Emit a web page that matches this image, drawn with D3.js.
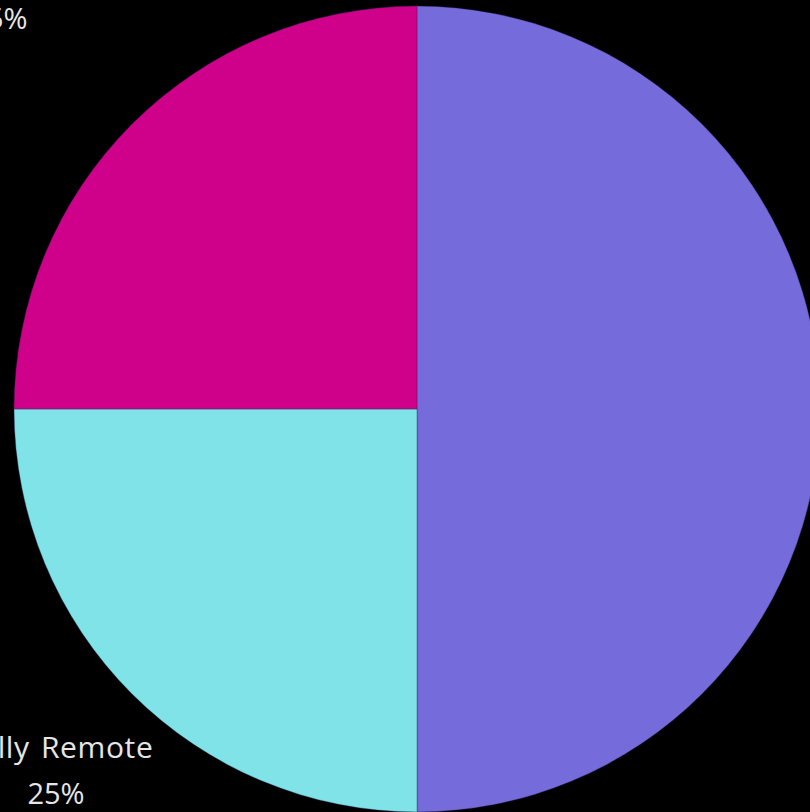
<!DOCTYPE html>
<html><head><meta charset="utf-8">
<script src="https://cdn.jsdelivr.net/npm/d3@7"></script>
<style>html,body{margin:0;padding:0;background:#000;overflow:hidden}</style>
</head><body>
<svg id="chart" width="810" height="812"></svg>
<script>
const categories = ["Hybrid", "Fully Remote", "Fully On-site"];
const values = [50, 25, 25];
const valueLabels = ["50%", "25%", "25%"];
const colors = ["#766bda", "#7fe3e8", "#cf008a"];

const W = 810, H = 812;
const cx = 417, cy = 409, R = 403;
// label distance from centre, as a multiple of the radius (layout only)
const labelDist = [1.3, 1.26, 1.46];

const svg = d3.select("#chart");
svg.append("rect").attr("width", W).attr("height", H).attr("fill", "#000");

const data = categories.map((c, i) => ({cat: c, value: values[i], label: valueLabels[i], color: colors[i], i}));
const pie = d3.pie().sort(null).value(d => d.value).startAngle(0).endAngle(2 * Math.PI);
const arcs = pie(data);
const arc = d3.arc().innerRadius(0).outerRadius(R);

const g = svg.append("g").attr("transform", `translate(${cx},${cy})`);
g.selectAll("path").data(arcs).join("path")
  .attr("d", arc)
  .attr("fill", d => d.data.color)
  .attr("stroke", "rgba(40,30,80,0.35)")
  .attr("stroke-width", 1);

const lbl = g.selectAll("g.lbl").data(arcs).join("g").attr("class", "lbl")
  .attr("transform", d => {
    const r = R * labelDist[d.data.i];
    const [x, y] = d3.arc().innerRadius(r).outerRadius(r).centroid(d);
    return `translate(${x},${y})`;
  });
lbl.append("text")
  .attr("text-anchor", "middle")
  .attr("x", 0)
  .attr("y", -10)
  .attr("fill", "#e6e6e6")
  .attr("font-family", "'Open Sans', sans-serif")
  .attr("font-size", 30)
  .attr("letter-spacing", 0.6)
  .attr("word-spacing", 3)
  .text(d => d.data.cat);
lbl.append("text")
  .attr("text-anchor", "middle")
  .attr("x", -2)
  .attr("y", 36)
  .attr("fill", "#e6e6e6")
  .attr("font-family", "'Open Sans', sans-serif")
  .attr("font-size", 29)
  .text(d => d.data.label);
</script>
</body></html>
